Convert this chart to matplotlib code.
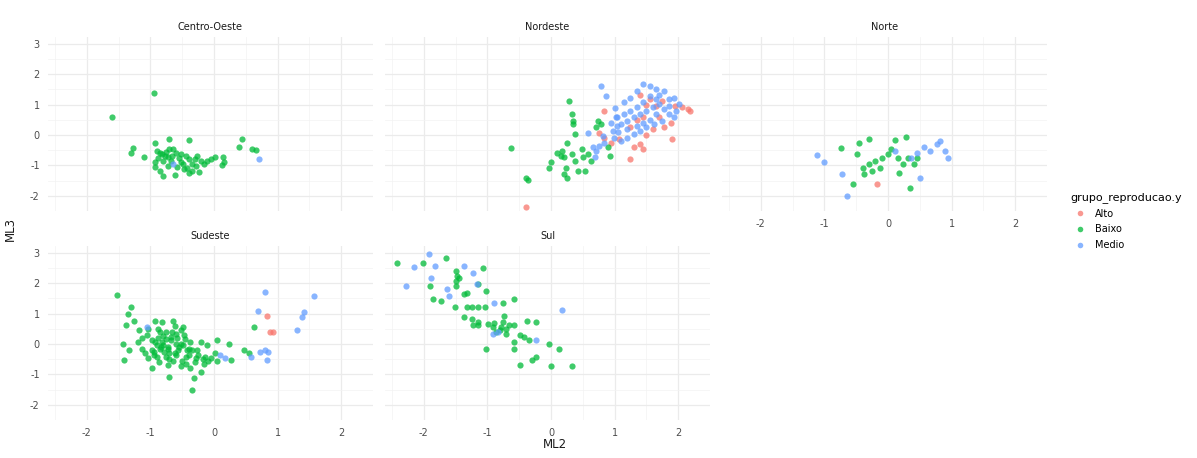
import numpy as np
import matplotlib.pyplot as plt
from matplotlib.lines import Line2D

plt.rcParams['axes.unicode_minus'] = False

# grupo colours (ggplot default hue palette)
groups = ['Alto', 'Baixo', 'Medio']
colors = {'Alto': '#F8766D', 'Baixo': '#00BA38', 'Medio': '#619CFF'}

regions = ['Centro-Oeste', 'Nordeste', 'Norte', 'Sudeste', 'Sul']

# --- Centro-Oeste ---
co_baixo_x = [-0.95, -1.60, -0.70, -0.39, -0.93, 0.44, 0.39, 0.60, 0.66, -1.27, -1.30, -1.10,
              -0.90, -0.82, -0.77, -0.72, -0.65, -0.60, -0.52, -0.44, -0.39, -0.72, -0.80, -0.93,
              -0.85, -0.80, -0.62, -0.52, -0.42, -0.34, -0.29, -0.26, -0.21, -0.16, -0.11, -0.04,
              0.02, 0.14, 0.15, 0.12, -0.24, -0.39, -0.47, -0.85, -0.68, -0.55, -0.30,
              -0.75, -0.58, -0.88, -0.48, -0.66, -0.35, -0.70, -0.92]
co_baixo_y = [1.38, 0.58, -0.13, -0.17, -0.27, -0.13, -0.39, -0.46, -0.49, -0.44, -0.58, -0.71,
              -0.52, -0.63, -0.69, -0.74, -0.47, -0.58, -0.63, -0.69, -0.79, -1.01, -0.85, -0.90,
              -1.18, -1.34, -1.32, -0.90, -1.07, -1.18, -1.01, -0.69, -0.85, -0.96, -0.85, -0.79,
              -0.74, -0.74, -0.90, -0.99, -1.23, -1.25, -1.12, -0.60, -0.85, -0.75, -0.80,
              -0.55, -1.05, -0.75, -0.95, -0.68, -0.95, -0.45, -1.05]
co_medio_x = [0.71, -0.65]
co_medio_y = [-0.79, -0.96]

# --- Nordeste ---
ne_alto_x = [-0.39, 0.84, 0.76, 0.94, 1.07, 1.25, 1.30, 1.40, 1.45, 1.91, 0.84, 2.06, 2.16, 2.19,
             1.55, 1.65, 1.45, 1.35, 1.60, 1.78, 1.25, 1.50, 1.50, 1.75, 1.88, 1.40, 1.95, 1.70]
ne_alto_y = [-2.38, -0.09, 0.08, -0.25, -0.14, -0.80, -0.41, -0.30, -0.47, -0.14, 0.80, 0.91, 0.85, 0.80,
             1.18, 0.95, 0.60, 0.50, 0.20, 0.25, 0.25, 0.00, 1.00, 1.10, 0.40, 1.30, 0.95, 0.60]
ne_baixo_x = [-0.63, -0.39, -0.36, 0.28, 0.33, 0.35, 0.34, 0.38, 0.25, 0.00, -0.03, 0.10, 0.15,
              0.20, 0.18, 0.23, 0.20, 0.25, 0.33, 0.38, 0.48, 0.51, 0.53, 0.43, 0.58, 0.63, 0.74,
              0.79, 0.71, 0.92, 0.89]
ne_baixo_y = [-0.43, -1.42, -1.48, 1.10, 0.69, 0.47, 0.36, 0.03, -0.25, -0.90, -1.07, -0.58, -0.69,
              -0.74, -0.52, -1.07, -1.29, -1.40, -0.63, -0.85, -0.47, -0.74, -1.18, -1.18, -0.63, -0.85, 0.47,
              0.36, 0.25, -0.69, -0.41]
ne_medio_x = [0.58, 0.66, 0.71, 0.76, 0.69, 0.84, 0.81, 0.97, 0.99, 1.04, 1.02, 0.79, 0.86,
              1.15, 1.25, 1.35, 1.45, 1.55, 1.65, 1.78, 1.86, 1.93, 2.01, 1.55, 1.65, 1.45, 1.35,
              1.25, 1.15, 1.04, 1.10, 1.20, 1.30, 1.40, 1.50, 1.60, 1.70, 1.78, 1.86, 1.93, 1.75,
              1.62, 1.50, 1.40, 1.30, 1.20, 1.10, 1.55, 1.45, 1.65, 1.00, 0.95, 1.05, 1.70, 1.85,
              1.97, 1.20, 1.35]
ne_medio_y = [0.08, -0.41, -0.52, -0.36, -0.74, -0.25, -0.03, 0.14, -0.09, 0.30, 0.58, 1.62, 1.29,
              1.07, 1.23, 1.45, 1.67, 1.62, 1.51, 1.45, 1.18, 1.23, 1.02, 1.29, 1.18, 1.07, 0.91,
              0.80, 0.69, 0.58, 0.36, 0.47, 0.58, 0.69, 0.80, 0.91, 1.02, 0.85, 0.69, 0.58, 0.47,
              0.36, 0.25, 0.14, 0.03, -0.09, -0.20, 0.50, 0.40, 0.70, 0.90, 0.40, 0.10, 1.30, 0.95,
              0.80, 0.20, 0.30]

# --- Norte ---
no_alto_x = [-0.17]
no_alto_y = [-1.60]
no_baixo_x = [-0.74, -0.45, -0.30, -0.48, -0.55, 0.34, 0.29, 0.11, -0.40, -0.30, -0.20, -0.09,
              -0.12, 0.00, 0.05, 0.16, 0.18, 0.23, 0.31, 0.41, 0.46, -0.25, -0.38]
no_baixo_y = [-0.44, -0.25, -0.14, -0.63, -1.60, -1.73, -0.08, -0.18, -1.07, -0.97, -0.86, -0.75,
              -1.07, -0.63, -0.47, -0.75, -1.24, -0.97, -0.75, -0.97, -0.75, -1.18, -1.29]
no_medio_x = [-1.11, -1.01, -0.73, -0.64, 0.51, 0.56, 0.66, 0.77, 0.82, 0.90, 0.95, 0.36, 0.46, 0.11]
no_medio_y = [-0.65, -0.90, -1.29, -2.00, -1.40, -0.41, -0.52, -0.30, -0.19, -0.52, -0.75, -0.75, -0.58, -0.52]

# --- Sudeste ---
se_alto_x = [0.83, 0.88, 0.93]
se_alto_y = [0.93, 0.39, 0.39]
se_baixo_x = [-1.53, -1.31, -1.36, -1.26, -1.38, -1.43, -1.41, -1.33,
              -0.93, -0.82, -0.64, -0.49, -1.03, -0.88, -0.75, -0.59, -0.47, -1.13, -0.98, -0.82,
              -0.67, -0.52, -0.37, -0.21, -1.13, -0.98, -0.85, -0.72, -0.57, -0.42, -0.26, -0.11,
              0.04, 0.24, -1.03, -0.90, -0.75, -0.59, -0.44, -0.29, -0.14, 0.01, -0.98, -0.72,
              -0.52, -0.37, -0.21, -0.70, -0.32, -0.34,
              -0.80, -0.70, -0.60, -0.90, -0.50, -0.40, -0.65, -0.30, -0.15, -1.05, -0.78, -0.55,
              -0.45, -0.25, -0.10, 0.05, -0.85, -0.62, -0.95, -1.20, 0.27, 0.47, 0.55, 0.63,
              -0.88, -0.76, -0.68, -0.58, -0.48, -0.83, -0.72, -0.62, -0.95, -0.66, -0.52, -0.40,
              -0.92, -0.80, -0.70, -0.35, -0.18, -0.05, -1.18, -1.08, -0.86, -0.44]
se_baixo_y = [1.60, 1.20, 0.99, 0.77, 0.61, 0.01, -0.53, -0.20,
              0.77, 0.72, 0.77, 0.55, 0.50, 0.50, 0.39, 0.34, 0.29, 0.18, 0.12, 0.07,
              0.12, 0.01, 0.07, 0.07, -0.15, -0.20, -0.15, -0.09, -0.20, -0.20, -0.20, -0.04,
              0.12, 0.01, -0.47, -0.42, -0.42, -0.37, -0.42, -0.47, -0.42, -0.31, -0.80, -0.69,
              -0.74, -0.80, -0.91, -1.07, -1.12, -1.50,
              0.25, -0.30, 0.00, -0.05, -0.55, -0.35, -0.55, -0.60, -0.65, 0.30, -0.25, -0.10,
              0.15, -0.35, -0.55, -0.55, 0.40, 0.60, -0.35, 0.05, -0.53, -0.20, -0.31, 0.56,
              0.20, 0.15, 0.22, 0.18, -0.05, -0.10, -0.15, -0.30, -0.25, 0.40, 0.45, -0.15,
              0.05, -0.05, -0.50, -0.20, -0.50, -0.45, 0.45, -0.30, -0.60, -0.65]
se_medio_x = [-1.06, 0.10, 0.17, 0.58, 0.69, 0.80, 0.73, 0.80, 0.85, 0.84, 1.30, 1.39, 1.42, 1.57]
se_medio_y = [0.55, -0.37, -0.47, -0.42, 1.09, 1.71, -0.25, -0.20, -0.25, -0.53, 0.45, 0.88, 1.04, 1.58]

# --- Sul ---
su_baixo_x = [-2.42, -2.01, -1.65, -1.91, -1.86, -1.73, -1.50, -1.48, -1.49, -1.50, -1.45, -1.51,
              -1.37, -1.32, -1.15, -1.07, -1.02, -1.32, -1.24, -1.15, -1.04, -1.37, -1.24, -1.15,
              -1.22, -1.15, -0.99, -0.91, -0.86, -0.79, -0.74, -0.76, -0.71, -0.66, -0.76, -0.58,
              -0.58, -0.48, -0.42, -0.35, -0.38, -0.23, -0.58, -0.58, -1.02, -0.03, 0.12, -0.48,
              -0.30, -0.23, 0.00, 0.33, -0.80, -0.70, -0.90]
su_baixo_y = [2.67, 2.67, 2.83, 1.91, 1.48, 1.42, 2.39, 2.23, 2.07, 1.91, 2.18, 1.20,
              1.64, 1.66, 1.96, 2.50, 1.75, 1.20, 1.20, 1.20, 1.20, 0.87, 0.82, 0.72,
              0.61, 0.61, 0.66, 0.55, 0.39, 0.55, 0.93, 0.72, 0.34, 0.61, 1.36, 1.47,
              0.61, 0.28, 0.23, 0.12, 0.77, 0.72, 0.07, -0.15, -0.18, 0.01, -0.15, -0.69,
              -0.53, -0.44, -0.74, -0.74, 0.45, 0.50, 0.70]
su_medio_x = [-1.92, -2.16, -1.83, -2.28, -1.88, -1.63, -1.60, -1.37, -1.22, -1.17, -0.89, -0.23,
              0.17, -0.91, -0.84]
su_medio_y = [2.95, 2.53, 2.56, 1.90, 2.18, 1.80, 1.58, 2.56, 2.34, 1.96, 1.36, 0.12,
              1.10, 0.34, 0.39]

data = {
    'Centro-Oeste': {'Baixo': (co_baixo_x, co_baixo_y), 'Medio': (co_medio_x, co_medio_y)},
    'Nordeste': {'Alto': (ne_alto_x, ne_alto_y), 'Baixo': (ne_baixo_x, ne_baixo_y),
                 'Medio': (ne_medio_x, ne_medio_y)},
    'Norte': {'Alto': (no_alto_x, no_alto_y), 'Baixo': (no_baixo_x, no_baixo_y),
              'Medio': (no_medio_x, no_medio_y)},
    'Sudeste': {'Alto': (se_alto_x, se_alto_y), 'Baixo': (se_baixo_x, se_baixo_y),
                'Medio': (se_medio_x, se_medio_y)},
    'Sul': {'Baixo': (su_baixo_x, su_baixo_y), 'Medio': (su_medio_x, su_medio_y)},
}

W, H = 1197, 458
fig = plt.figure(figsize=(W / 100, H / 100), dpi=100)

col_left = [48, 385, 722]
row_top = [37, 246]
pw, ph = 325, 174

for i, reg in enumerate(regions):
    r, c = divmod(i, 3)
    ax = fig.add_axes([col_left[c] / W, 1 - (row_top[r] + ph) / H, pw / W, ph / H])
    for g in groups:
        if g in data[reg]:
            x, y = data[reg][g]
            ax.scatter(x, y, s=20, color=colors[g], alpha=0.75, linewidths=0, zorder=3)
    ax.set_xlim(-2.61, 2.35)
    ax.set_ylim(-2.5, 3.22)
    ax.set_xticks([-2, -1, 0, 1, 2])
    ax.set_yticks([-2, -1, 0, 1, 2, 3])
    ax.set_xticks(np.arange(-2.5, 2.6, 1), minor=True)
    ax.set_yticks(np.arange(-2.5, 3.1, 1), minor=True)
    ax.grid(which='major', color='#EBEBEB', lw=0.9)
    ax.grid(which='minor', color='#F3F3F3', lw=0.5)
    ax.set_axisbelow(True)
    for s in ax.spines.values():
        s.set_visible(False)
    ax.tick_params(which='both', length=0, labelsize=7, labelcolor='#4D4D4D', pad=6)
    if c != 0:
        ax.tick_params(labelleft=False)
    if r == 0 and reg != 'Norte':
        ax.tick_params(labelbottom=False)
    ax.set_title(reg, fontsize=7, color='#1A1A1A', pad=5)

fig.text(10 / W, 1 - 229 / H, 'ML3', rotation=90, ha='center', va='center', fontsize=8.5, color='#1A1A1A')
fig.text(555 / W, 1 - 445 / H, 'ML2', ha='center', va='center', fontsize=8.5, color='#1A1A1A')

handles = [Line2D([], [], marker='o', ls='', color=colors[g], alpha=0.75, markersize=4,
                  markeredgewidth=0, label=g) for g in groups]
leg = fig.legend(handles=handles, title='grupo_reproducao.y', loc='upper left',
                 bbox_to_anchor=(1066 / W, 1 - 188 / H), frameon=False, fontsize=7,
                 title_fontsize=8, handletextpad=0.6, labelspacing=0.6, borderaxespad=0)
leg._legend_box.align = 'left'

fig.savefig('out.png', dpi=100)
